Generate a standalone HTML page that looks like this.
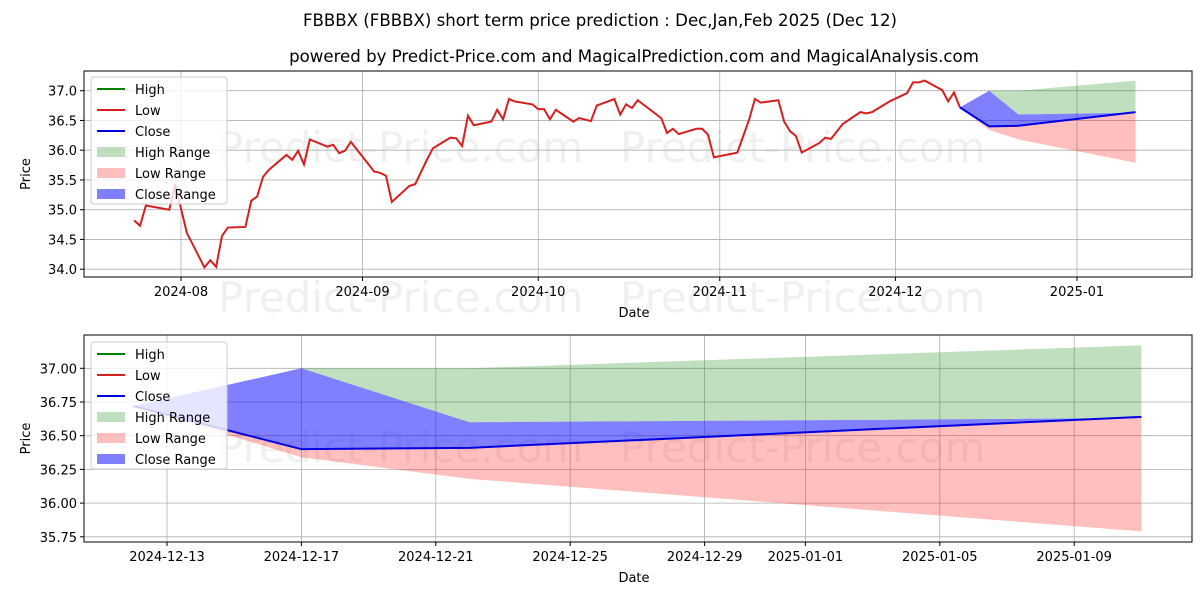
<!DOCTYPE html>
<html><head><meta charset="utf-8"><style>
body{margin:0;background:#fff;}
svg{display:block;font-family:"DejaVu Sans","Liberation Sans",sans-serif;}
</style></head><body>
<svg id="chart" width="1200" height="600" xmlns="http://www.w3.org/2000/svg">
<text x="600" y="26" text-anchor="middle" font-size="16.6">FBBBX (FBBBX) short term price prediction : Dec,Jan,Feb 2025 (Dec 12)</text>
<text x="634" y="62" text-anchor="middle" font-size="16.6">powered by Predict-Price.com and MagicalPrediction.com and MagicalAnalysis.com</text>
</svg>
<script>
// historical Low series: days since 2024-08-01 and prices
const histDays=[-8,-7,-6,-2,-1,1,4,5,6,7,8,11,12,13,14,15,18,19,20,21,22,25,26,27,28,29,33,34,35,36,39,40,42,43,46,47,48,49,50,53,54,55,56,57,60,61,62,63,64,67,68,70,71,74,75,76,77,78,82,83,84,85,88,89,90,91,95,97,98,99,102,103,104,105,106,109,110,111,113,116,117,118,121,124,125,126,127,130,131,132,133];
const histLow=[34.82,34.73,35.07,35.0,35.43,34.61,34.03,34.15,34.04,34.56,34.70,34.71,35.15,35.22,35.55,35.67,35.92,35.84,35.99,35.76,36.18,36.06,36.09,35.95,35.99,36.14,35.64,35.62,35.57,35.13,35.40,35.43,35.84,36.03,36.21,36.20,36.07,36.58,36.42,36.48,36.68,36.52,36.86,36.82,36.77,36.69,36.69,36.52,36.68,36.48,36.54,36.49,36.75,36.86,36.60,36.77,36.71,36.84,36.54,36.29,36.36,36.27,36.36,36.36,36.26,35.88,35.96,36.51,36.86,36.80,36.84,36.48,36.32,36.24,35.96,36.12,36.21,36.19,36.44,36.64,36.62,36.64,36.82,36.96,37.14,37.14,37.17,37.01,36.82,36.97,36.72];
// forecast
const fDays=[133,138,143,163];
const fClose=[36.72,36.40,36.41,36.64];
const fCloseHi=[36.72,37.00,36.60,36.63];
const fHighTop=[36.72,37.00,37.00,37.17];
const fHighBot=[36.72,37.00,36.60,36.63];
const fLowBot=[36.72,36.34,36.18,35.79];
const topTicksY=[34.0,34.5,35.0,35.5,36.0,36.5,37.0];
const topTicksX=[0,31,61,92,122,153];
const topTickLabels=["2024-08","2024-09","2024-10","2024-11","2024-12","2025-01"];
const botTicksY=[35.75,36.0,36.25,36.5,36.75,37.0];
const botTicksX=[134,138,142,146,150,153,157,161];
const botTickLabels=["2024-12-13","2024-12-17","2024-12-21","2024-12-25","2024-12-29","2025-01-01","2025-01-05","2025-01-09"];

const NS="http://www.w3.org/2000/svg";
const svg=document.getElementById('chart');
function mk(tag,attrs,parent){const e=document.createElementNS(NS,tag);for(const k in attrs)e.setAttribute(k,attrs[k]);(parent||svg).appendChild(e);return e;}

function panel(cfg){
  const g=mk('g',{});
  
  
  const {L,R,T,B,x,y}=cfg;
  cfg.wm.forEach(w=>{const t=mk('text',{x:w[0],y:w[1],'font-size':42,fill:'#000','fill-opacity':0.06},g);t.textContent='Predict-Price.com';
    
    });
  cfg.yt.forEach(v=>{mk('line',{x1:L,x2:R,y1:y(v),y2:y(v),stroke:'#b0b0b0','stroke-width':0.8},g);
    mk('line',{x1:L-4,x2:L,y1:y(v),y2:y(v),stroke:'#000'},g);
    const t=mk('text',{x:L-7,y:y(v)+5,'text-anchor':'end','font-size':13},g);t.textContent=cfg.yfmt(v);
    
    });
  cfg.xt.forEach((v,i)=>{mk('line',{x1:x(v),x2:x(v),y1:T,y2:B,stroke:'#b0b0b0','stroke-width':0.8},g);
    mk('line',{x1:x(v),x2:x(v),y1:B,y2:B+4,stroke:'#000'},g);
    const t=mk('text',{x:x(v),y:B+19,'text-anchor':'middle','font-size':13},g);t.textContent=cfg.xl[i];
    
    });
  function band(top,bot,color,name){
    let d='M'+fDays.map((dd,i)=>x(dd)+','+y(top[i])).join('L');
    for(let i=fDays.length-1;i>=0;i--)d+='L'+x(fDays[i])+','+y(bot[i]);
    const p=mk('path',{d:d+'Z',fill:color},g);
    
    
  }
  band(fHighTop,fHighBot,'rgba(0,128,0,0.25)','high-range-band');
  band(fClose,fLowBot,'rgba(255,0,0,0.25)','low-range-band');
  band(fCloseHi,fClose,'rgba(0,0,255,0.5)','close-range-band');
  if(cfg.hist){const p=mk('polyline',{points:histDays.map((d,i)=>x(d)+','+y(histLow[i])).join(' '),fill:'none',stroke:'#d62020','stroke-width':2},g);
    
    }
  const c=mk('polyline',{points:fDays.map((d,i)=>x(d)+','+y(fClose[i])).join(' '),fill:'none',stroke:'#0000e0','stroke-width':2},g);
  
  
  mk('rect',{x:L,y:T,width:R-L,height:B-T,fill:'none',stroke:'#000','stroke-width':1},g);
  const yl=mk('text',{x:0,y:0,transform:`translate(${L-54},${(T+B)/2}) rotate(-90)`,'text-anchor':'middle','font-size':13},g);yl.textContent='Price';
  
  
  const xl=mk('text',{x:(L+R)/2-4,y:B+40,'text-anchor':'middle','font-size':13},g);xl.textContent='Date';
  
  
  const lg=mk('g',{},g);
  
  
  const lx=91,ly=cfg.legY;
  mk('rect',{x:lx,y:ly,width:136,height:127,rx:3,fill:'#fff','fill-opacity':0.8,stroke:'#ccc'},lg);
  const items=[['High','line','#008000'],['Low','line','#d62020'],['Close','line','#0000e0'],['High Range','box','rgba(0,128,0,0.25)'],['Low Range','box','rgba(255,0,0,0.25)'],['Close Range','box','rgba(0,0,255,0.5)']];
  items.forEach((it,i)=>{const yy=ly+12+i*21;
    if(it[1]==='line')mk('line',{x1:lx+6,x2:lx+34,y1:yy,y2:yy,stroke:it[2],'stroke-width':2},lg);
    else mk('rect',{x:lx+6,y:yy-5,width:28,height:10,fill:it[2]},lg);
    const t=mk('text',{x:lx+44,y:yy+5,'font-size':13},lg);t.textContent=it[0];
    
    });
}
panel({name:'history-panel',L:84,R:1192,T:71,B:277,
  x:d=>181+d*5.856,y:v=>90.7+(37-v)*59.5,
  yt:topTicksY,xt:topTicksX,xl:topTickLabels,yfmt:v=>v.toFixed(1),hist:true,legY:77,
  wm:[[218,162],[620,162],[218,312],[620,312]]});
panel({name:'forecast-panel',L:84,R:1192,T:335,B:542,
  x:d=>167+(d-134)*33.6,y:v=>368.3+(37-v)*134.8,
  yt:botTicksY,xt:botTicksX,xl:botTickLabels,yfmt:v=>v.toFixed(2),hist:false,legY:342,
  wm:[[218,462],[620,462]]});
</script>
</body></html>
